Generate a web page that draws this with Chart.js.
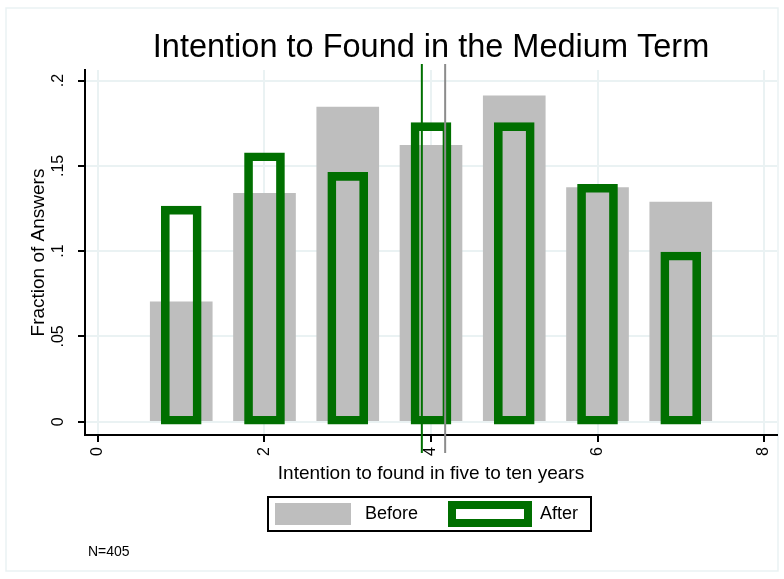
<!DOCTYPE html>
<html>
<head>
<meta charset="utf-8">
<script src="https://cdn.jsdelivr.net/npm/chart.js@4.4.0/dist/chart.umd.min.js"></script>
<style>
  body { margin: 0; background: #fff; }
  #wrap { width: 784px; height: 579px; }
</style>
</head>
<body>
<div id="wrap"><canvas id="chart" width="784" height="579"></canvas></div>
<script>
// --- données ---
const categories = [1, 2, 3, 4, 5, 6, 7];
const beforeValues = [0.0703, 0.1339, 0.1845, 0.162, 0.1911, 0.1372, 0.1288];
const afterValues = [0.1264, 0.1577, 0.1462, 0.1753, 0.1753, 0.1392, 0.0995];
const seriesNames = ['Before', 'After'];
const meanValues = [4.17, 3.89]; // moyenne avant / après (lignes verticales)
const xTicks = [0, 2, 4, 6, 8];
const yTicks = [0, 0.05, 0.1, 0.15, 0.2];
const yTickLabels = ['0', '.05', '.1', '.15', '.2'];
const titleText = 'Intention to Found in the Medium Term';
const noteText = 'N=405';

const FONT = "'Liberation Sans', Arial, sans-serif";
const GRAY = '#bebebe';
const GREEN = '#006f00';
const LINE_GRAY = '#8c8c8c';
const GRID = '#eaf2f3';

Chart.defaults.font.family = FONT;
Chart.defaults.color = '#000';

// cadre, titre, lignes des moyennes, légende et note
const extras = {
    id: 'extras',
    beforeDraw(chart) {
        const c = chart.ctx;
        c.save();
        c.fillStyle = '#fff';
        c.fillRect(0, 0, chart.width, chart.height);
        c.strokeStyle = GRID;
        c.lineWidth = 1.5;
        c.strokeRect(6, 8, chart.width - 12, chart.height - 16);
        c.restore();
    },
    afterDatasetsDraw(chart) {
        const c = chart.ctx;
        const area = chart.chartArea;
        const colors = [LINE_GRAY, GREEN];
        c.save();
        c.lineWidth = 2;
        meanValues.forEach((m, i) => {
            const px = chart.scales.x.getPixelForValue(m);
            c.strokeStyle = colors[i];
            c.beginPath();
            c.moveTo(px, area.top - 6);
            c.lineTo(px, area.bottom + 18);
            c.stroke();
        });
        c.restore();
    },
    afterDraw(chart) {
        const c = chart.ctx;
        const area = chart.chartArea;
        c.save();
        // titre centré sur la zone du graphique
        c.fillStyle = '#000';
        c.font = '32.5px ' + FONT;
        c.textAlign = 'center';
        c.textBaseline = 'middle';
        c.fillText(titleText, (area.left + area.right) / 2, 48.5);
        // boîte de légende
        const lx = 267, ly = 496, lw = 325, lh = 36;
        c.strokeStyle = '#000';
        c.lineWidth = 2;
        c.strokeRect(lx + 1, ly + 1, lw - 2, lh - 2);
        c.fillStyle = GRAY;
        c.fillRect(275, 503, 76, 22);
        c.strokeStyle = GREEN;
        c.lineWidth = 8;
        c.strokeRect(452, 505, 76, 18);
        c.fillStyle = '#000';
        c.font = '18px ' + FONT;
        c.textAlign = 'left';
        c.fillText(seriesNames[0], 365, 514.5);
        c.fillText(seriesNames[1], 540, 514.5);
        // note
        c.font = '14px ' + FONT;
        c.fillText(noteText, 88, 552);
        c.restore();
    }
};

const ctx = document.getElementById('chart');

new Chart(ctx, {
    type: 'bar',
    data: {
        datasets: [
            {
                label: seriesNames[0],
                data: categories.map((c, i) => ({ x: c, y: beforeValues[i] })),
                backgroundColor: GRAY,
                borderWidth: 0,
                barThickness: 62,
                grouped: false,
                order: 2
            },
            {
                label: seriesNames[1],
                data: categories.map((c, i) => ({ x: c, y: afterValues[i] })),
                backgroundColor: 'rgba(0,0,0,0)',
                borderColor: GREEN,
                borderWidth: 8,
                borderSkipped: false,
                barThickness: 40,
                base: -0.0015,
                grouped: false,
                order: 1
            }
        ]
    },
    options: {
        responsive: false,
        animation: false,
        layout: { padding: { left: 0, right: 7, top: 70, bottom: 94 } },
        plugins: {
            legend: { display: false },
            tooltip: { enabled: false },
            title: { display: false }
        },
        scales: {
            x: {
                type: 'linear',
                offset: false,
                min: -0.156,
                max: 8.156,
                afterBuildTicks: s => { s.ticks = xTicks.map(v => ({ value: v })); },
                afterFit: s => { s.height = 50; s.paddingLeft = 0; s.paddingRight = 0; },
                ticks: {
                    minRotation: 90, maxRotation: 90,
                    autoSkip: false, padding: 5,
                    font: { size: 16 }
                },
                grid: { offset: false, color: GRID, lineWidth: 2, tickColor: '#000', tickWidth: 2, tickLength: 7 },
                border: { display: true, color: '#000', width: 2 },
                title: {
                    display: true,
                    text: 'Intention to found in five to ten years',
                    font: { size: 19 },
                    padding: { top: 0, bottom: 0 }
                }
            },
            y: {
                min: -0.0078,
                max: 0.2062,
                afterBuildTicks: s => { s.ticks = yTicks.map(v => ({ value: v })); },
                afterFit: s => { s.width = 85; s.paddingTop = 0; s.paddingBottom = 0; },
                ticks: {
                    minRotation: 90, maxRotation: 90,
                    crossAlign: 'center', padding: 8,
                    font: { size: 16 },
                    callback: (v, i) => yTickLabels[i]
                },
                grid: { color: GRID, lineWidth: 2, tickColor: '#000', tickWidth: 2, tickLength: 7 },
                border: { display: true, color: '#000', width: 2 },
                title: {
                    display: true,
                    text: 'Fraction of Answers',
                    font: { size: 19 },
                    padding: { top: 27, bottom: 0 }
                }
            }
        }
    },
    plugins: [extras]
});
</script>
</body>
</html>
